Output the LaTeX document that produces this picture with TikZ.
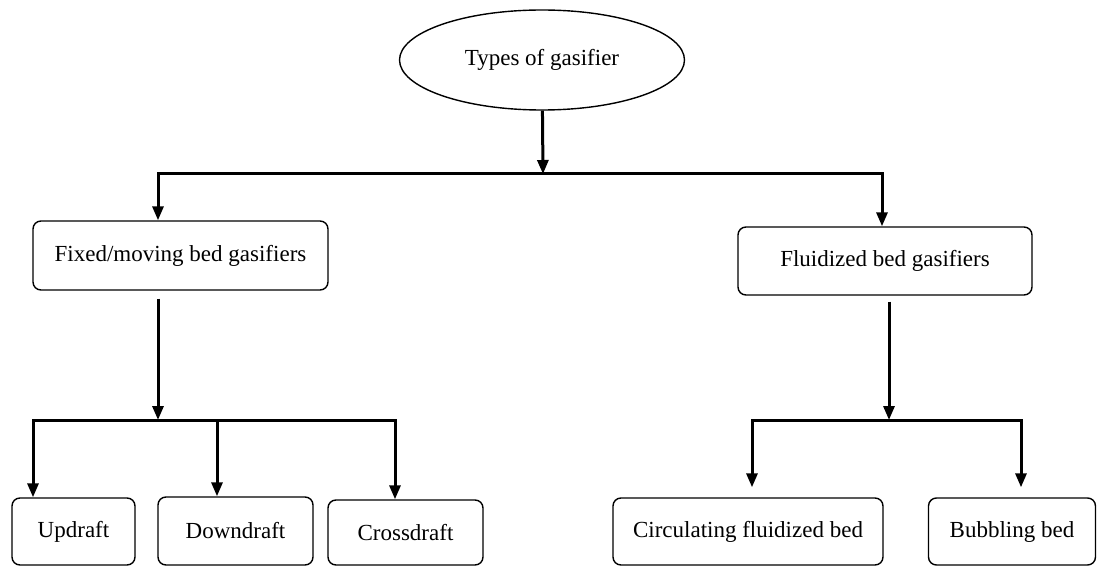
\documentclass[tikz,border=0pt]{standalone}
\usepackage{fontspec}
\setmainfont{Liberation Serif}
\usetikzlibrary{arrows.meta,shapes.geometric}

\begin{document}
\begin{tikzpicture}[
  x=1pt, y=-1pt,
  txt/.style={font=\fontsize{23}{27}\selectfont, inner sep=0pt, align=center},
  box/.style={txt, draw, line width=1.4pt, rounded corners=8pt},
  oval/.style={txt, draw, ellipse, line width=1.4pt},
  link/.style={line width=3pt},
  arr/.style={link, -{Triangle[length=14pt,width=11pt]}}
]
\useasboundingbox (0,0) rectangle (1098,567);
\node[oval, minimum width=285, minimum height=100] (types) at (542,60) {Types of gasifier};
\node[box, minimum width=295, minimum height=69] (fixed) at (180.5,255.5) {Fixed/moving bed gasifiers};
\node[box, minimum width=294, minimum height=68] (fluid) at (885,261) {Fluidized bed gasifiers};
\node[box, minimum width=123, minimum height=67] (up) at (73.5,531.5) {Updraft};
\node[box, minimum width=155, minimum height=68] (down) at (235.5,531) {Downdraft};
\node[box, minimum width=155, minimum height=65] (cross) at (405.5,532.5) {Crossdraft};
\node[box, minimum width=270, minimum height=67] (circ) at (748,531.5) {Circulating fluidized bed};
\node[box, minimum width=167, minimum height=67] (bub) at (1012,531.5) {Bubbling bed};

% first level
\coordinate (split) at (543,174);
\coordinate (xl) at (158,174);
\coordinate (xr) at (882,174);
\draw[arr] (types) -- (split);
\draw[arr] (split) -- (xl) -- (xl |- fixed.north);
\draw[arr] (split) -- (xr) -- (xr |- fluid.north);

% fixed/moving bed
\coordinate (dl) at (158,420);
\coordinate (bl) at (33,420);
\coordinate (bm) at (217,420);
\coordinate (br) at (395,420);
\draw[arr, shorten <=8pt] (fixed.south -| dl) -- (dl);
\draw[arr] (dl) -- (bl) -- (bl |- up.north);
\draw[arr] (dl) -- (br) -- (br |- cross.north);
\draw[arr] (bm) -- (bm |- down.north);

% fluidized bed
\coordinate (dr) at (889,420);
\coordinate (cl) at (752,420);
\coordinate (cr) at (1021,420);
\draw[arr, shorten <=6pt] (fluid.south -| dr) -- (dr);
\draw[arr, shorten >=10pt] (dr) -- (cl) -- (cl |- circ.north);
\draw[arr, shorten >=10pt] (dr) -- (cr) -- (cr |- bub.north);
\end{tikzpicture}
\end{document}
